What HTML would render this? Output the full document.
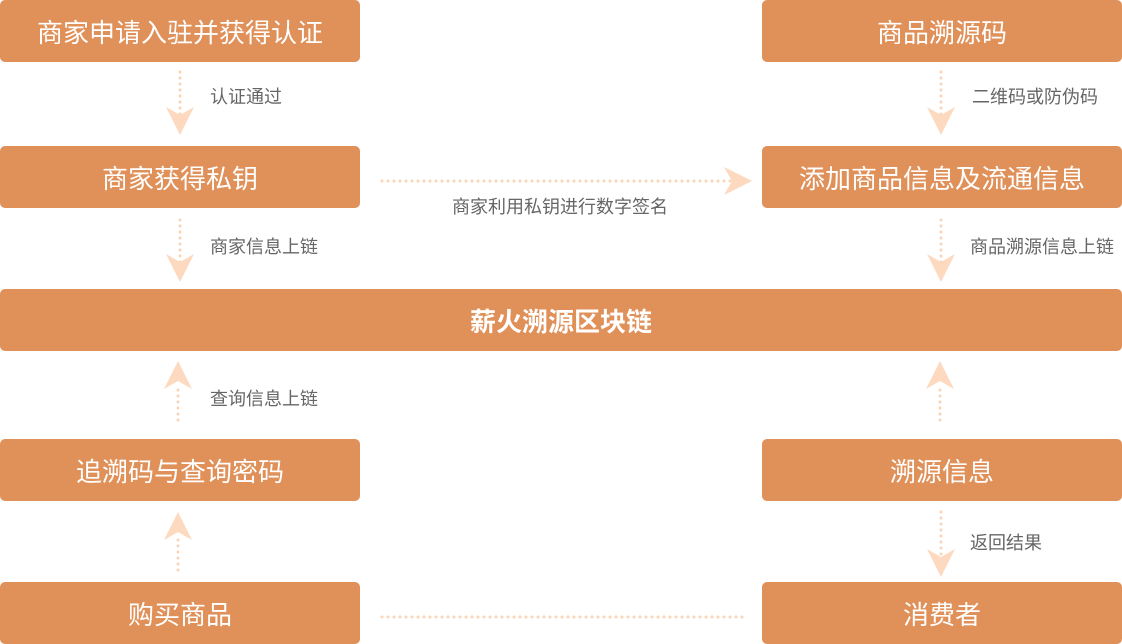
<!DOCTYPE html>
<html><head><meta charset="utf-8"><style>
body{margin:0;width:1122px;height:644px;position:relative;background:#fff;font-family:"Liberation Sans","Noto Sans CJK SC",sans-serif;overflow:hidden}
.b{position:absolute;background:#E0915A;color:#fff;border-radius:5px;display:flex;align-items:center;justify-content:center;font-size:26px}
.l{position:absolute;color:#666;font-size:18px;white-space:nowrap}
svg{position:absolute;left:0;top:0}
</style></head><body>
<div class="b" style="left:0;top:0;width:360px;height:62px">商家申请入驻并获得认证</div>
<div class="b" style="left:0;top:146px;width:360px;height:62px">商家获得私钥</div>
<div class="b" style="left:0;top:289px;width:1122px;height:62px;font-weight:bold">薪火溯源区块链</div>
<div class="b" style="left:0;top:439px;width:360px;height:62px">追溯码与查询密码</div>
<div class="b" style="left:0;top:582px;width:360px;height:62px">购买商品</div>
<div class="b" style="left:762px;top:0;width:360px;height:62px">商品溯源码</div>
<div class="b" style="left:762px;top:146px;width:360px;height:62px">添加商品信息及流通信息</div>
<div class="b" style="left:762px;top:439px;width:360px;height:62px">溯源信息</div>
<div class="b" style="left:762px;top:582px;width:360px;height:62px">消费者</div>
<div class="l" style="left:210px;top:83px">认证通过</div>
<div class="l" style="left:210px;top:233px">商家信息上链</div>
<div class="l" style="left:210px;top:385px">查询信息上链</div>
<div class="l" style="left:452px;top:193px">商家利用私钥进行数字签名</div>
<div class="l" style="left:972px;top:83px">二维码或防伪码</div>
<div class="l" style="left:970px;top:233px">商品溯源信息上链</div>
<div class="l" style="left:970px;top:529px">返回结果</div>
<svg width="1122" height="644">
<g stroke="#FBD3B6" stroke-width="3" stroke-linecap="round" stroke-dasharray="0 6" fill="none">
<line x1="180" y1="72" x2="180" y2="118"/>
<line x1="180" y1="220" x2="180" y2="265"/>
<line x1="178" y1="390" x2="178" y2="424"/>
<line x1="178" y1="540" x2="178" y2="575"/>
<line x1="941" y1="72" x2="941" y2="118"/>
<line x1="941" y1="220" x2="941" y2="265"/>
<line x1="940" y1="390" x2="940" y2="424"/>
<line x1="941" y1="512" x2="941" y2="560"/>
<line x1="382" y1="181" x2="735" y2="181"/>
<line x1="382" y1="617" x2="745" y2="617"/>
</g>
<g fill="#FDD9C0">
<path d="M180,135 L166,107 L180,115 L194,107Z"/>
<path d="M180,282 L166,254 L180,262 L194,254Z"/>
<path d="M178,361 L164,389 L178,381 L192,389Z"/>
<path d="M178,512 L164,540 L178,532 L192,540Z"/>
<path d="M941,135 L927,107 L941,115 L955,107Z"/>
<path d="M941,282 L927,254 L941,262 L955,254Z"/>
<path d="M940,361 L926,389 L940,381 L954,389Z"/>
<path d="M941,577 L927,549 L941,557 L955,549Z"/>
<path d="M752,181 L724,167 L732,181 L724,195Z"/>
</g>
</svg>
</body></html>
